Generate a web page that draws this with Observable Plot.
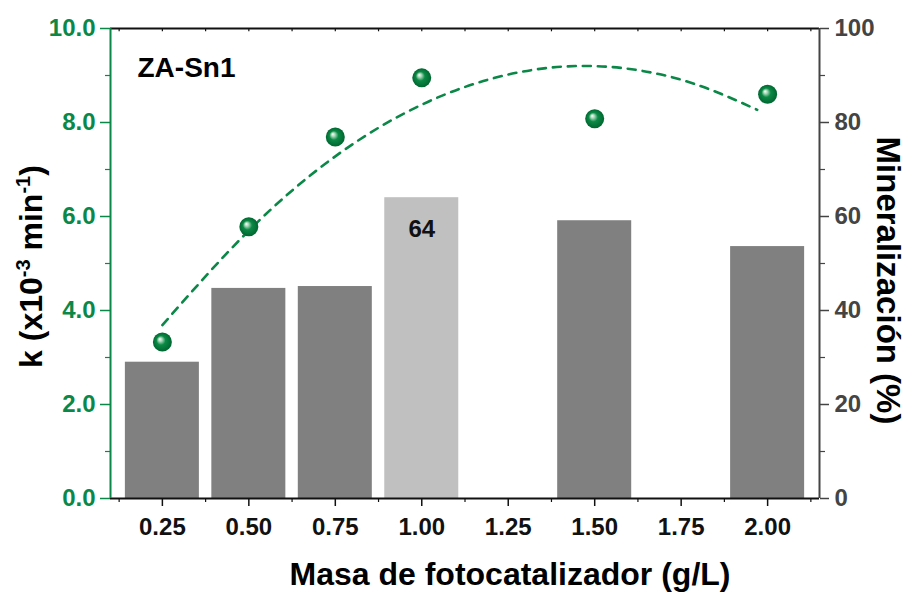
<!DOCTYPE html>
<html><head><meta charset="utf-8">
<script src="https://cdn.jsdelivr.net/npm/d3@7"></script>
<script src="https://cdn.jsdelivr.net/npm/@observablehq/plot@0.6"></script>
<style>
body{margin:0;background:#fff}
svg{font-family:"Liberation Sans",Arial,sans-serif;font-weight:bold}
</style>
</head><body><div id="chart"></div>
<script>
// ---- data ----
const masses = [0.25, 0.50, 0.75, 1.00, 1.50, 2.00];          // g/L
const mineralization = [29.0, 44.7, 45.1, 64.0, 59.1, 53.6];   // %
const kValues = [3.33, 5.78, 7.69, 8.95, 8.08, 8.60];          // x10^-3 min^-1
const fitX = [0.25, 0.50, 0.75, 1.00, 1.25, 1.50, 1.75, 1.97];
const fitK = [3.69, 5.70, 7.28, 8.38, 9.02, 9.20, 8.91, 8.27];
const xTicks = [0.25, 0.50, 0.75, 1.00, 1.25, 1.50, 1.75, 2.00];
const xMinor = [0.125, 0.375, 0.625, 0.875, 1.125, 1.375, 1.625, 1.875, 2.125];
const kTicks = [0, 2, 4, 6, 8, 10];
const kMinor = [1, 3, 5, 7, 9];
const highlightMass = 1.00;
const highlightLabel = "64";
const panelLabel = "ZA-Sn1";
const xTitle = "Masa de fotocatalizador (g/L)";
const yTitle = "k (x10-3 min-1)";
const y2Title = "Mineralización (%)";

const green = "#0b8747";
const grayAxis = "#444444";
const barHalf = 0.107;

const bars = masses.map((m, i) => ({m, pct: mineralization[i]}));
const pts = masses.map((m, i) => ({m, k: kValues[i]}));
const fit = fitX.map((m, i) => ({m, k: fitK[i]}));

const chart = Plot.plot({
  width: 908, height: 592,
  marginLeft: 110, marginRight: 89, marginTop: 28, marginBottom: 94,
  style: {fontFamily: '"Liberation Sans", Arial, sans-serif', fontWeight: "bold", background: "#fff"},
  x: {domain: [0.1, 2.15], label: null},
  y: {domain: [0, 10], label: null},
  marks: [
    Plot.rectY(bars, {x1: d => d.m - barHalf, x2: d => d.m + barHalf, y1: 0, y2: d => d.pct / 10,
      fill: d => d.m === highlightMass ? "#c0c0c0" : "#808080"}),
    Plot.text(bars.filter(d => d.m === highlightMass), {x: "m", y: d => d.pct / 10, text: () => highlightLabel,
      lineAnchor: "top", dy: 22, fontSize: 24, fill: "#111"}),
    Plot.line(fit, {x: "m", y: "k", curve: "natural", stroke: green, strokeWidth: 2.6, strokeDasharray: "8 7"}),
    Plot.dot(pts, {x: "m", y: "k", r: 9.5, fill: "url(#sphere)", stroke: "none"}),
    // frame
    Plot.ruleY([10], {stroke: "#111", strokeWidth: 2}),
    Plot.ruleY([0], {stroke: "#111", strokeWidth: 2}),
    Plot.ruleX([2.15], {stroke: grayAxis, strokeWidth: 2}),
    Plot.ruleX([0.1], {stroke: green, strokeWidth: 2}),
    // top inward ticks
    Plot.ruleX(xTicks.concat(xMinor), {x: d => d, y1: 10, y2: 9.93, stroke: "#111", strokeWidth: 1.2}),
    // bottom axis
    Plot.axisX({ticks: xTicks, anchor: "bottom", tickSize: 8, tickPadding: 11, tickFormat: d3.format(".2f"),
      fontSize: 24, color: "#111", strokeWidth: 1.5, label: null}),
    Plot.axisX({ticks: xMinor, anchor: "bottom", tickSize: 4, tickFormat: () => "", color: "#111", strokeWidth: 1.2, label: null}),
    // left axis
    Plot.axisY({ticks: kTicks, anchor: "left", tickSize: 10, tickPadding: 5, tickFormat: d3.format(".1f"),
      fontSize: 24, color: green, strokeWidth: 1.5, label: null}),
    Plot.axisY({ticks: kMinor, anchor: "left", tickSize: 5, tickFormat: () => "", color: green, strokeWidth: 1.2, label: null}),
    // right axis (percent, same pixel scale: 10 k-units == 100 %)
    Plot.axisY({ticks: kTicks, anchor: "right", tickSize: 9, tickPadding: 6, tickFormat: d => String(d * 10),
      fontSize: 24, color: grayAxis, strokeWidth: 1.5, label: null}),
    Plot.axisY({ticks: kMinor, anchor: "right", tickSize: 5, tickFormat: () => "", color: grayAxis, strokeWidth: 1.2, label: null}),
    // titles
    Plot.text([xTitle], {frameAnchor: "bottom", dx: 45, dy: 64, lineAnchor: "top", textAnchor: "middle", fontSize: 32, fill: "#000"}),
    Plot.text([yTitle], {frameAnchor: "left", dx: -79, dy: 3, rotate: -90, textAnchor: "middle", lineAnchor: "middle", fontSize: 32, fill: "#000"}),
    Plot.text([y2Title], {frameAnchor: "right", dx: 68, dy: 17, rotate: 90, textAnchor: "middle", lineAnchor: "middle", fontSize: 33, fill: "#000"}),
    Plot.text([panelLabel], {frameAnchor: "top-left", dx: 27, dy: 29, lineAnchor: "top", textAnchor: "start", fontSize: 28, fill: "#000"})
  ]
});

const svg = d3.select(chart.tagName === "svg" ? chart : chart.querySelector("svg"));

// sphere gradient
const grad = svg.insert("defs", ":first-child").append("radialGradient")
  .attr("id", "sphere").attr("cx", "50%").attr("cy", "50%").attr("r", "50%")
  .attr("fx", "36%").attr("fy", "34%");
grad.append("stop").attr("offset", "0%").attr("stop-color", "#ffffff");
grad.append("stop").attr("offset", "20%").attr("stop-color", "#a6d8b8");
grad.append("stop").attr("offset", "48%").attr("stop-color", "#0b8a45");
grad.append("stop").attr("offset", "100%").attr("stop-color", "#006630");

// superscripts in the k title
svg.selectAll("text").filter(function() { return this.textContent === yTitle; }).each(function() {
  const t = d3.select(this);
  t.text(null);
  t.append("tspan").text("k (x10");
  t.append("tspan").attr("dy", "-12").attr("font-size", 20).text("-3");
  t.append("tspan").attr("dy", "12").text(" min");
  t.append("tspan").attr("dy", "-12").attr("font-size", 20).text("-1");
  t.append("tspan").attr("dy", "12").text(")");
});

document.getElementById("chart").appendChild(chart);
</script>
</body></html>
